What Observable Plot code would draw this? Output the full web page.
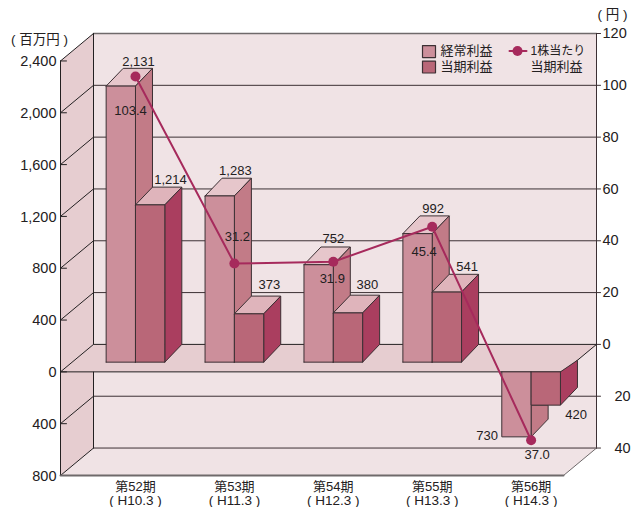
<!DOCTYPE html>
<html lang="ja">
<head>
<meta charset="utf-8">
<style>
html,body{margin:0;padding:0;background:#fff}
svg{display:block}
</style>
<script src="https://cdn.jsdelivr.net/npm/d3@7"></script>
<script src="https://cdn.jsdelivr.net/npm/@observablehq/plot@0.6"></script>
</head>
<body>
<script>
// ---- data ----
const periods = ["第52期","第53期","第54期","第55期","第56期"];
const fiscal = ["( H10.3 )","( H11.3 )","( H12.3 )","( H13.3 )","( H14.3 )"];
const ordinaryProfit = [2131,1283,752,992,-730];
const netProfit = [1214,373,380,541,-420];
const perShare = [103.4,31.2,31.9,45.4,-37.0];
const leftTicks = [2400,2000,1600,1200,800,400,0,-400,-800];
const rightTicks = [120,100,80,60,40,20,0,-20,-40];

// ---- drawing constants ----
const fontFamily = '"Liberation Sans","Noto Sans CJK JP",sans-serif';
const yenToMillion = 20;
const xLeft = -0.758, xRight = 4.661, wallDX = 0.3337, wallDY = 212;
const barW = 0.2965, barDX = 0.172, barDY = 137, negShrink = 0.79;
const C = {
  back:"#f0e3e5", wall:"#e6cdd0", ink:"#232021", edge:"#3c3034", grey:"#6f6a6b",
  a:{front:"#cc8f9b", side:"#c27b87", top:"#e6c6cb"},
  b:{front:"#b96778", side:"#aa3e5f", top:"#dfb4bb"},
  line:"#a62a5c"
};
const xPx = px => (px - 135) / 98.9;
const yPx = py => (344 - py) / 0.1296;

const poly = (pts, fill, stroke = C.edge, strokeWidth = 1) =>
  Plot.line([...pts, pts[0]], {x: d => d[0], y: d => d[1], fill, stroke, strokeWidth, strokeLinejoin: "miter"});
const seg = (a, b, stroke = C.edge, strokeWidth = 1) =>
  Plot.line([a, b], {x: d => d[0], y: d => d[1], stroke, strokeWidth});

const marks = [];
// walls
const xBack = xLeft + wallDX;
marks.push(poly([[xLeft,-800-wallDY],[xRight-wallDX,-800-wallDY],[xRight,-800],[xBack,-800]], C.back, "none"));
marks.push(poly([[xBack,2400],[xRight,2400],[xRight,-800],[xBack,-800]], C.back, "none"));
marks.push(poly([[xLeft,2400-wallDY],[xBack,2400],[xBack,-800],[xLeft,-800-wallDY]], C.wall, "none"));
// grid
for (const v of leftTicks) {
  if (v === 0) continue;
  marks.push(seg([xBack,v],[xRight,v], v === 2400 ? C.grey : C.edge, v === 2400 ? 1.4 : 1));
  marks.push(seg([xLeft,v-wallDY],[xBack,v], C.ink));
  marks.push(seg([xLeft,v-wallDY],[xPx(66),v-wallDY], C.ink));
}
// frame edges
marks.push(seg([xBack,2400],[xBack,-800], C.ink));
marks.push(seg([xLeft,2400-wallDY],[xLeft,-800-wallDY], C.ink));
marks.push(seg([xRight,2400],[xRight,-800], C.edge));
marks.push(seg([xLeft,-800-wallDY],[xRight-wallDX,-800-wallDY], C.grey, 2));
marks.push(seg([xRight-wallDX,-800-wallDY],[xRight,-800], C.grey));
for (const v of rightTicks) marks.push(seg([xRight,v*yenToMillion],[xPx(600),v*yenToMillion], C.edge));
// floor
marks.push(poly([[xLeft,-wallDY],[xBack,0],[xRight,0],[xRight-wallDX,-wallDY]], C.wall, C.ink));
marks.push(seg([xLeft,0-wallDY],[xPx(66),0-wallDY], C.ink));

// bars
const posBar = (x, v, c) => {
  const base = -barDY, top = v - barDY, x1 = x + barW;
  return [
    poly([[x,top],[x+barDX,v],[x1+barDX,v],[x1,top]], c.top),
    poly([[x1,base],[x1,top],[x1+barDX,v],[x1+barDX,0]], c.side),
    poly([[x,base],[x,top],[x1,top],[x1,base]], c.front)
  ];
};
periods.forEach((p, i) => {
  const a = ordinaryProfit[i], b = netProfit[i];
  if (a > 0) {
    marks.push(...posBar(i - barW, a, C.a), ...posBar(i, b, C.b));
  } else {
    const ya = a * negShrink - barDY, yb = b * negShrink - barDY, f = -wallDY;
    const edgeAt = x => ((xRight - x) / wallDX) * -wallDY;  // floor's right edge
    marks.push(poly([[i,yb],[i+barDX,yb],[i+barDX,ya+barDY],[i,ya]], C.a.side));
    marks.push(poly([[i-barW,f],[i,f],[i,ya],[i-barW,ya]], C.a.front));
    const xr = i + barW + barDX;
    marks.push(poly([[i+barW,f],[xr,edgeAt(xr)],[xr,yb+barDY],[i+barW,yb]], C.b.side));
    marks.push(poly([[i,f],[i+barW,f],[i+barW,yb],[i,yb]], C.b.front));
  }
});

// line per share
const lineData = perShare.map((v, i) => ({x: i, y: v * yenToMillion}));
marks.push(Plot.line(lineData, {x:"x", y:"y", stroke:C.line, strokeWidth:2}));
marks.push(Plot.dot(lineData, {x:"x", y:"y", r:5, fill:C.line, stroke:"none"}));

// text helper
const txt = (t, x, y, o = {}) =>
  Plot.text([t], {x:() => x, y:() => y, text:d => d, fill:C.ink, fontSize:14.5, lineAnchor:"middle", ...o});

// tick labels
for (const v of leftTicks)
  marks.push(txt(d3.format(",")(Math.abs(v)), xPx(56), v - wallDY, {textAnchor:"end", dy:0.5}));
for (const v of rightTicks)
  marks.push(txt(String(Math.abs(v)), xPx(v < 0 ? 614 : 602), v * yenToMillion, {textAnchor:"start"}));
periods.forEach((p, i) => {
  marks.push(txt(p, i, yPx(486), {fontSize:13}));
  marks.push(txt(fiscal[i], i, yPx(500), {fontSize:13.5}));
});
marks.push(txt("( 百万円 )", xPx(39), yPx(39.5), {fontSize:13.5}));
marks.push(txt("( 円 )", xPx(612), yPx(14), {fontSize:13.5}));

// value labels, each nudged from its anchor in pixels
const labelOffsets = {
  a:[[3,-7],[1,-7],[0,-8.5],[1,-7.4],[-44,-3.6]],
  b:[[35,-7.7],[35,-11.7],[34,-10.8],[35,-7],[45,15.6]],
  s:[[-5,34],[3,-27],[-1,17],[-8,25],[6,15]]
};
periods.forEach((p, i) => {
  const f = d3.format(",");
  marks.push(txt(f(Math.abs(ordinaryProfit[i])), i, ordinaryProfit[i], {fontSize:13, dx:labelOffsets.a[i][0], dy:labelOffsets.a[i][1]}));
  marks.push(txt(f(Math.abs(netProfit[i])), i, netProfit[i], {fontSize:13, dx:labelOffsets.b[i][0], dy:labelOffsets.b[i][1]}));
  marks.push(txt(Math.abs(perShare[i]).toFixed(1), i, perShare[i] * yenToMillion, {fontSize:13, dx:labelOffsets.s[i][0], dy:labelOffsets.s[i][1]}));
});

// legend
const swatch = (px, py, fill) => poly([[xPx(px),yPx(py)],[xPx(px+13),yPx(py)],[xPx(px+13),yPx(py+12)],[xPx(px),yPx(py+12)]], fill, C.edge, 1.2);
marks.push(swatch(422, 45, C.a.front));
marks.push(swatch(422, 60.5, C.b.front));
marks.push(txt("経常利益", xPx(440), yPx(50.5), {fontSize:13, textAnchor:"start"}));
marks.push(txt("当期利益", xPx(440), yPx(66), {fontSize:13, textAnchor:"start"}));
marks.push(seg([xPx(509),yPx(50.5)],[xPx(526),yPx(50.5)], C.line, 2));
marks.push(Plot.dot([0], {x:() => xPx(517), y:() => yPx(50.5), r:5, fill:C.line, stroke:"none"}));
marks.push(txt("1株当たり", xPx(530), yPx(50.5), {fontSize:12, textAnchor:"start"}));
marks.push(txt("当期利益", xPx(530), yPx(66), {fontSize:13, textAnchor:"start"}));

const chart = Plot.plot({
  width:633, height:507,
  marginLeft:60, marginRight:37, marginTop:33, marginBottom:32,
  style:{fontFamily, background:"#fff", overflow:"visible"},
  x:{type:"linear", domain:[xLeft,xRight], axis:null},
  y:{type:"linear", domain:[-800-wallDY,2400], axis:null},
  marks
});
document.body.appendChild(chart);
</script>
</body>
</html>
